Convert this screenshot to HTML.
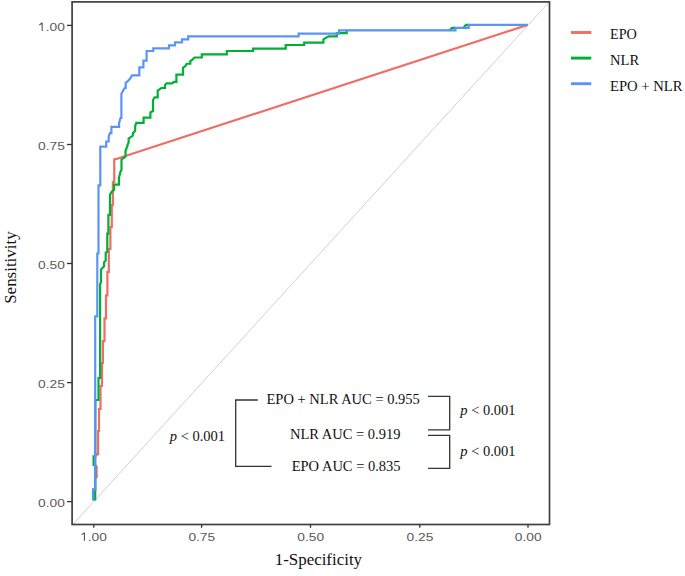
<!DOCTYPE html>
<html>
<head>
<meta charset="utf-8">
<style>
html,body{margin:0;padding:0;background:#fff;}
body{width:685px;height:576px;overflow:hidden;position:relative;}
svg{position:absolute;left:0;top:0;}
.tick{font-family:"Liberation Sans",sans-serif;font-size:11.6px;fill:#5a5a5a;}
.ser{font-family:"Liberation Serif",serif;fill:#111;}
</style>
</head>
<body>
<svg width="685" height="576" viewBox="0 0 685 576">
  <defs>
    <path id="one" fill="#5a5a5a" d="M3.35 -8.4 H4.5 V0 H3.35 V-6.85 L0.95 -5.6 V-6.65 Z"/>
  </defs>
  <!-- diagonal reference -->
  <line x1="72.1" y1="525.3" x2="549.5" y2="1.6" stroke="#c8c8c8" stroke-width="0.85"/>

  <!-- EPO (red) -->
  <path fill="none" stroke="#F06C65" stroke-width="2.2" stroke-linejoin="miter"
    d="M93.6 500.4 V489.3 H95.2 V477.2 H96.6 V466.7 H95.2 V454.4 H98.1 V431 H99 V409 H100.5 V386 H102 V363 H102.9 V341.2 H104.5 V318.3 H106 V295.4 H107.4 V272 H108.8 V249 H110.4 V227 H111.8 V205 H112.9 V182.2 H114.25 V159.3 L117.4 158.7 L121.5 157.2 L527.6 24.9"/>

  <!-- NLR (green) -->
  <path fill="none" stroke="#00B034" stroke-width="2.2" stroke-linejoin="miter"
    d="M95.2 500.4 V465 H93.6 V456.3 H95.3 V400 H98.5 V378 H100.1 V284 L101 282.4 V269.4 L104.1 266.25 V262.1 L105.7 260.5 V252.7 L107.3 251.7 V233.6 H108.4 V214.9 H110 V194.6 L111.5 192 L114.1 189.9 V184.7 H118.9 V178 L120.5 171.75 L121.5 170 V159.3 L124.4 157.6 L125.5 156.6 V151 L126.8 147.5 L127.5 146.1 V144.75 L128.6 142.7 V138.5 L130.7 137.1 L132.4 136.1 L133.1 134.3 V133 L134.8 131.2 L135.2 129.5 V126 L136.3 122.9 H143.6 V117.7 H150.4 V112.5 L153 111 V100 L154.6 97.4 H157.7 V90.6 L159.25 89.6 L161.3 88 H165 V84.9 L166.5 83.3 H172.3 L173.8 81.8 H176.4 V74.7 H183 V67.9 L185.6 65.8 L186.7 63.75 H190.3 V61.1 L192.4 59.6 L194.5 57.5 H201.8 V54.4 H226.8 V51 H253 V48.6 H285.7 V45 H304.2 V42.7 H323.4 V39.3 L328.6 36.4 H336.8 V33.1 H346.7 V31"/>
  <path fill="none" stroke="#00B034" stroke-width="2.2" d="M449.6 30.3 L452 27.8 H455.5 M463.6 27.8 L466 24.9 H468.7"/>
  <path fill="none" stroke="#00B034" stroke-width="1.2" d="M346.7 31 V30.3 H450.4 M455.5 27.8 H464.3 M468.7 24.9 H527.6"/>

  <!-- EPO + NLR (blue) -->
  <path fill="none" stroke="#5C94F4" stroke-width="2.2" stroke-linejoin="miter"
    d="M93 500.4 V489.3 H95.2 V316.3 H97.3 V253.5 H98.5 V185.4 H100.3 V146.7 H106.2 V141.5 H108.7 V136.3 L110 133.2 H111.4 V126.8 H119.1 V123 L120.5 118 H121.4 V93.75 L123.1 90.6 L124.7 88 H125.7 V82.8 L128.3 80.7 L130.4 78.1 L132 75.4 H139.3 V67.4 H143.4 V60.6 H146.6 V51 H153.3 V48.3 H169 V45.3 H175 V42.4 H182 V39.3 H188.2 V36.3 H298.6 V33.6 H339 V30.3 H455.5 V27.8 H468.7 V24.9 H527.6"/>

  <!-- panel border -->
  <rect x="72.1" y="1.9" width="477.4" height="522.6" fill="none" stroke="#404040" stroke-width="1.7"/>

  <!-- y ticks -->
  <g stroke="#333" stroke-width="1.3">
    <line x1="67" y1="25.4" x2="72" y2="25.4"/>
    <line x1="67" y1="144.5" x2="72" y2="144.5"/>
    <line x1="67" y1="263.5" x2="72" y2="263.5"/>
    <line x1="67" y1="382.6" x2="72" y2="382.6"/>
    <line x1="67" y1="501.6" x2="72" y2="501.6"/>
  </g>
  <!-- x ticks -->
  <g stroke="#333" stroke-width="1.3">
    <line x1="93.75" y1="524.6" x2="93.75" y2="527.8"/>
    <line x1="201.6" y1="524.6" x2="201.6" y2="527.8"/>
    <line x1="310.5" y1="524.6" x2="310.5" y2="527.8"/>
    <line x1="419.8" y1="524.6" x2="419.8" y2="527.8"/>
    <line x1="528" y1="524.6" x2="528" y2="527.8"/>
  </g>

  <!-- y tick labels -->
  <g class="tick">
    <use href="#one" x="38.25" y="31.0"/><text x="45.66" y="31.0" textLength="19.14" lengthAdjust="spacingAndGlyphs">.00</text>
    <text x="38.0" y="150.1" textLength="26.8" lengthAdjust="spacingAndGlyphs">0.75</text>
    <text x="38.0" y="269.1" textLength="26.8" lengthAdjust="spacingAndGlyphs">0.50</text>
    <text x="38.0" y="388.2" textLength="26.8" lengthAdjust="spacingAndGlyphs">0.25</text>
    <text x="38.0" y="507.2" textLength="26.8" lengthAdjust="spacingAndGlyphs">0.00</text>
  </g>
  <!-- x tick labels -->
  <g class="tick">
    <use href="#one" x="80.5" y="540.8"/><text x="87.81" y="540.8" textLength="19.14" lengthAdjust="spacingAndGlyphs">.00</text>
    <text x="188.4" y="540.8" textLength="26.8" lengthAdjust="spacingAndGlyphs">0.75</text>
    <text x="297.3" y="540.8" textLength="26.8" lengthAdjust="spacingAndGlyphs">0.50</text>
    <text x="406.6" y="540.8" textLength="26.8" lengthAdjust="spacingAndGlyphs">0.25</text>
    <text x="514.8" y="540.8" textLength="26.8" lengthAdjust="spacingAndGlyphs">0.00</text>
  </g>

  <!-- axis titles -->
  <text class="ser" x="318.4" y="564.6" text-anchor="middle" font-size="16.5" textLength="87.3" lengthAdjust="spacingAndGlyphs">1-Specificity</text>
  <text class="ser" x="15.8" y="267.6" text-anchor="middle" font-size="16.5" textLength="72.4" lengthAdjust="spacingAndGlyphs" transform="rotate(-90 15.8 267.6)">Sensitivity</text>

  <!-- legend -->
  <g stroke-width="2.9">
    <line x1="571" y1="32.5" x2="591.3" y2="32.5" stroke="#F06C65"/>
    <line x1="571" y1="58.1" x2="591.3" y2="58.1" stroke="#00B034"/>
    <line x1="571" y1="83.7" x2="591.3" y2="83.7" stroke="#5C94F4"/>
  </g>
  <g class="ser" font-size="14.2">
    <text x="610" y="38.9">EPO</text>
    <text x="610" y="65.4" textLength="29.2" lengthAdjust="spacingAndGlyphs">NLR</text>
    <text x="610" y="91.2" textLength="72.6" lengthAdjust="spacingAndGlyphs">EPO + NLR</text>
  </g>

  <!-- annotation brackets -->
  <g fill="none" stroke="#333" stroke-width="1.3">
    <polyline points="257.8,400 235.7,400 235.7,466.3 271.5,466.3"/>
    <polyline points="428,396.4 449.7,396.4 449.7,429.8 428,429.8"/>
    <polyline points="428,435.3 449.7,435.3 449.7,468.3 428,468.3"/>
  </g>
  <g class="ser" font-size="14.5">
    <text x="266.5" y="403.8">EPO + NLR AUC = 0.955</text>
    <text x="290.0" y="438.8" font-size="15.2" textLength="110.5" lengthAdjust="spacingAndGlyphs">NLR AUC = 0.919</text>
    <text x="291.7" y="471.0" font-size="15" textLength="108.9" lengthAdjust="spacingAndGlyphs">EPO AUC = 0.835</text>
    <text x="169.8" y="440.6"><tspan font-style="italic">p</tspan> &lt; 0.001</text>
    <text x="460.3" y="415"><tspan font-style="italic">p</tspan> &lt; 0.001</text>
    <text x="460.3" y="455.7"><tspan font-style="italic">p</tspan> &lt; 0.001</text>
  </g>
</svg>
</body>
</html>
